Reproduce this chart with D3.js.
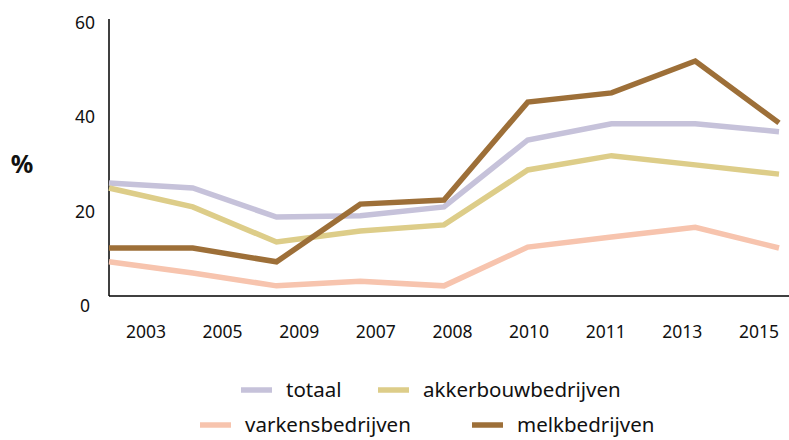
<!DOCTYPE html>
<html>
<head>
<meta charset="utf-8">
<script src="https://cdn.jsdelivr.net/npm/d3@7/dist/d3.min.js"></script>
<style>
  body { margin: 0; background: #fff; }
  svg text { font-family: "Noto Sans", Lato, sans-serif; fill: #111; }
</style>
</head>
<body>
<div id="chart"></div>
<script>
// categories, in the order the chart shows them
const years = ["2003", "2005", "2009", "2007", "2008", "2010", "2011", "2013", "2015"];

const totaal          = [24.5, 23.4, 17.1, 17.4, 19.3, 33.8, 37.3, 37.3, 35.6];
const akkerbouw       = [23.4, 19.3, 11.7, 14.1, 15.4, 27.3, 30.4, 28.4, 26.4];
const varkens         = [7.4, 5.0, 2.2, 3.2, 2.2, 10.6, 12.8, 14.9, 10.4];
const melk            = [10.4, 10.4, 7.4, 19.9, 20.8, 42.0, 44.0, 50.9, 37.5];

const yTicks = [0, 20, 40, 60];

const series = [
  {name: "totaal", values: totaal, color: "#c6c2da"},
  {name: "akkerbouwbedrijven", values: akkerbouw, color: "#ddcd89"},
  {name: "varkensbedrijven", values: varkens, color: "#f7c4ae"},
  {name: "melkbedrijven", values: melk, color: "#9d6f38"}
];

var width = 789, height = 440;

var svg = d3.select("#chart").append("svg")
    .attr("width", width)
    .attr("height", height);

// points run from the axis to the right edge
var x = d3.scalePoint()
    .domain(years)
    .range([109, 779]);

// the year labels sit on their own, slightly narrower grid
var xLabel = d3.scalePoint()
    .domain(years)
    .range([146, 759]);

var y = d3.scaleLinear()
    .domain([0, 60])
    .range([296, 19]);

var yLabel = d3.scaleLinear()
    .domain([0, 60])
    .range([306, 23]);

// axes lines
svg.append("line")
  .attr("x1", 109).attr("y1", y(60))
  .attr("x2", 109).attr("y2", y(0))
  .attr("stroke", "#000")
  .attr("stroke-width", 1.5);

svg.append("line")
  .attr("x1", 109).attr("y1", y(0))
  .attr("x2", width).attr("y2", y(0))
  .attr("stroke", "#000")
  .attr("stroke-width", 1.5);

// y tick labels
svg.selectAll(".ytick")
  .data(yTicks)
  .enter().append("text")
  .attr("class", "ytick")
  .attr("x", 85)
  .attr("y", function(d) { return yLabel(d); })
  .attr("dy", "0.35em")
  .attr("text-anchor", "middle")
  .style("font-size", "17.5px")
  .text(function(d) { return d; });

svg.append("text")
  .attr("x", 22)
  .attr("y", 164)
  .attr("dy", "0.35em")
  .attr("text-anchor", "middle")
  .style("font-size", "25px")
  .style("font-weight", "bold")
  .text("%");

// x labels
svg.selectAll(".xtick")
  .data(years)
  .enter().append("text")
  .attr("class", "xtick")
  .attr("x", function(d) { return xLabel(d); })
  .attr("y", 332)
  .attr("dy", "0.35em")
  .attr("text-anchor", "middle")
  .style("font-size", "17.5px")
  .text(function(d) { return d; });

var line = d3.line()
    .x(function(d, i) { return x(years[i]); })
    .y(function(d) { return y(d); });

svg.selectAll(".serie")
  .data(series)
  .enter().append("path")
  .attr("class", "serie")
  .attr("d", function(d) { return line(d.values); })
  .attr("fill", "none")
  .attr("stroke", function(d) { return d.color; })
  .attr("stroke-width", 5.5)
  .attr("stroke-linejoin", "miter");

// legend
var legendPos = [
  {sx: 241, ty: 390},
  {sx: 378, ty: 390},
  {sx: 200, ty: 425},
  {sx: 472, ty: 425}
];

var legend = svg.selectAll(".legend")
  .data(series)
  .enter().append("g")
  .attr("class", "legend")
  .attr("transform", function(d, i) {
    return "translate(" + legendPos[i].sx + "," + legendPos[i].ty + ")";
  });

legend.append("line")
  .attr("x1", 0).attr("x2", 31)
  .attr("y1", 0).attr("y2", 0)
  .attr("stroke", function(d) { return d.color; })
  .attr("stroke-width", 5.5);

legend.append("text")
  .attr("x", 45)
  .attr("y", 0)
  .attr("dy", "0.33em")
  .style("font-size", "20.5px")
  .text(function(d) { return d.name; });
</script>
</body>
</html>
